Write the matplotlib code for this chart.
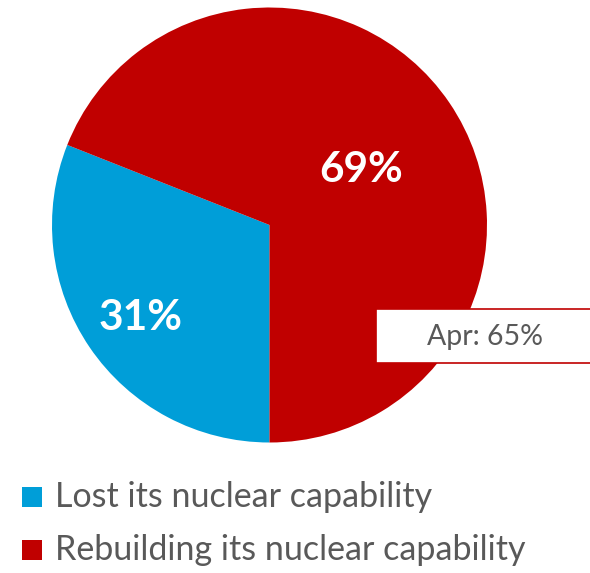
import matplotlib
matplotlib.use("Agg")
import matplotlib.pyplot as plt
from matplotlib.patches import Rectangle

plt.rcParams['font.family'] = ['Lato', 'DejaVu Sans']

labels = ["Lost its nuclear capability", "Rebuilding its nuclear capability"]
shares = [31, 69]
colors = ["#009ED8", "#C00000"]
label_pos = [(-0.595, -0.428), (0.42, 0.253)]
prev_note = "Apr: 65%"

W, H = 590, 573
fig = plt.figure(figsize=(W / 100, H / 100), dpi=100)

# pie axes placed in pixel terms
x0, x1, y0, y1 = 52, 487, 7, 443
ax = fig.add_axes([x0 / W, 1 - y1 / H, (x1 - x0) / W, (y1 - y0) / H])
ax.pie(shares, colors=colors, startangle=270, counterclock=False, radius=1,
       wedgeprops=dict(linewidth=0))
ax.set_xlim(-1, 1)
ax.set_ylim(-1, 1)
ax.set_aspect('equal')
ax.axis('off')

for v, (lx, ly) in zip(shares, label_pos):
    ax.text(lx, ly, f"{v}%", color="white", fontsize=30.5, fontweight='bold',
            ha='center', va='center')

# previous-wave note box, runs off the right edge
bx0, by0, by1 = 376, 309, 363
fig.patches.append(Rectangle((bx0 / W, 1 - by1 / H), 1.0, (by1 - by0) / H,
                             transform=fig.transFigure, facecolor='white',
                             edgecolor='#C00000', linewidth=1.2))
fig.text(485 / W, 1 - 337 / H, prev_note, color='#595959', fontsize=20.5,
         ha='center', va='center')

# legend
leg_y = [497, 550]
for lab, c, yy in zip(labels, colors, leg_y):
    fig.patches.append(Rectangle((22 / W, 1 - (yy + 10) / H), 20 / W, 20 / H,
                                 transform=fig.transFigure, facecolor=c,
                                 edgecolor='none'))
    fig.text(55 / W, 1 - yy / H, lab, color='#595959', fontsize=24.5,
             ha='left', va='center')

fig.savefig("out.png", dpi=100)
